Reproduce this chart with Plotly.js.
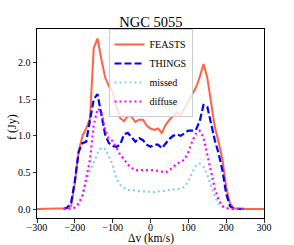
<!DOCTYPE html>
<html>
<head>
<meta charset="utf-8">
<script src="https://cdn.plot.ly/plotly-3.0.1.min.js"></script>
<style>html,body{margin:0;padding:0;background:#fff;}#chart{width:294px;height:245px;}</style>
</head>
<body>
<div id="chart"></div>
<script>
// FEASTS velocity grid (km/s) and flux (Jy)
const vFeasts = [-300,-290,-280,-270,-260,-250,-240,-230,-220,-210,-200,-190,-180,-170,-160,-150,-140,-130,-120,-110,-100,-90,-80,-70,-60,-50,-40,-30,-20,-10,0,10,20,30,40,50,60,70,80,90,100,110,120,130,140,150,160,170,180,190,200,210,220,230,240,250,260,270,280,290,300];
const fFeasts = [0,0,0,0,0,0,0,0,0.01,0.04,0.35,0.78,1.00,1.10,1.24,2.20,2.33,2.05,1.80,1.68,1.60,1.40,1.24,1.20,1.27,1.26,1.19,1.22,1.22,1.14,1.10,1.08,1.10,1.04,1.15,1.22,1.27,1.32,1.28,1.38,1.48,1.56,1.66,1.80,1.98,1.80,1.45,1.12,0.92,0.68,0.30,0.08,0.01,0,0,0,0,0,0,0,0];

// THINGS / missed / diffuse velocity grid
const vOther = [-230,-220,-210,-200,-190,-180,-170,-160,-150,-140,-130,-120,-110,-100,-90,-80,-70,-60,-50,-40,-30,-20,-10,0,10,20,30,40,50,60,70,80,90,100,110,120,130,140,150,160,170,180,190,200,210,220,230,240,250];
const fThings = [0,0.02,0.08,0.38,0.78,0.90,0.92,1.20,1.50,1.57,1.28,1.02,0.90,0.86,0.85,0.88,1.02,1.04,0.98,0.92,0.97,0.94,0.88,0.85,0.88,0.88,0.83,0.90,0.96,1.00,1.02,1.00,1.04,1.07,1.07,1.08,1.20,1.42,1.40,1.15,0.94,0.76,0.53,0.21,0.04,0.005,0,0,0];
const fMissed = [0,0.005,0.01,0.02,0.09,0.19,0.36,0.52,0.63,0.76,0.84,0.82,0.72,0.60,0.42,0.33,0.29,0.26,0.26,0.25,0.24,0.24,0.24,0.23,0.23,0.24,0.24,0.25,0.26,0.26,0.27,0.28,0.30,0.38,0.50,0.59,0.62,0.58,0.47,0.32,0.17,0.07,0.03,0.01,0,0,0,0,0];
const fDiffuse = [0,0,0.005,0.02,0.07,0.17,0.42,0.67,1.15,1.37,1.33,1.08,0.96,0.93,0.84,0.74,0.68,0.61,0.56,0.53,0.53,0.53,0.54,0.54,0.53,0.52,0.51,0.50,0.53,0.58,0.62,0.64,0.68,0.78,0.92,1.03,1.07,0.98,0.74,0.48,0.28,0.13,0.04,0.01,0,0,0,0,0];

const seriesNames = ['FEASTS','THINGS','missed','diffuse'];
const titleText = 'NGC 5055';
const xTitle = 'Δv (km/s)';
const yTitle = 'f (Jy)';

const serif = 'Liberation Serif';

const traces = [
  {x: vFeasts, y: fFeasts, name: seriesNames[0], mode: 'lines', line: {color: '#ff6347', width: 2}},
  {x: vOther, y: fThings, name: seriesNames[1], mode: 'lines', line: {color: '#0000ff', width: 2.2, dash: '7px,3px'}},
  {x: vOther, y: fMissed, name: seriesNames[2], mode: 'lines', line: {color: '#87ceeb', width: 2.2, dash: '2px,3px'}},
  {x: vOther, y: fDiffuse, name: seriesNames[3], mode: 'lines', line: {color: '#ff00ff', width: 2.2, dash: '2px,3px'}}
];

const axisCommon = {
  showgrid: false, zeroline: false, showline: true, mirror: true,
  linecolor: '#000', linewidth: 1, ticks: 'outside', ticklen: 3.5, tickwidth: 0.8,
  tickcolor: '#000', tickfont: {family: serif, size: 10, color: '#000'}
};

const layout = {
  width: 294, height: 245,
  margin: {l: 37, r: 29.5, t: 29, b: 27, pad: 0},
  paper_bgcolor: '#fff', plot_bgcolor: '#fff',
  font: {family: serif, color: '#000'},
  title: {text: titleText, font: {family: serif, size: 14.5, color: '#000'}, x: 0.513, xanchor: 'center', y: 0.89, yanchor: 'bottom'},
  xaxis: Object.assign({}, axisCommon, {
    range: [-300, 300], dtick: 100, tick0: 0, ticklabelstandoff: -4
  }),
  yaxis: Object.assign({}, axisCommon, {
    range: [-0.123, 2.46], dtick: 0.5, tick0: 0, tickformat: '.1f'
  }),
  annotations: [
    {text: xTitle, xref: 'paper', yref: 'paper', x: 0.5, y: -0.109, xanchor: 'center', yanchor: 'middle',
     showarrow: false, font: {family: serif, size: 11.5, color: '#000'}, borderpad: 0},
    {text: yTitle, xref: 'paper', yref: 'paper', x: -0.111, y: 0.481, xanchor: 'center', yanchor: 'middle',
     textangle: -90, showarrow: false, font: {family: serif, size: 12, color: '#000'}, borderpad: 0}
  ],
  showlegend: true,
  legend: {
    x: 0.5, xanchor: 'center', y: 1, yanchor: 'top',
    bgcolor: 'rgba(255,255,255,0.8)', bordercolor: '#cccccc', borderwidth: 1,
    font: {family: serif, size: 10, color: '#000'}, itemwidth: 30, tracegroupgap: 0
  }
};

Plotly.newPlot('chart', traces, layout, {displayModeBar: false, staticPlot: true});
</script>
</body>
</html>
